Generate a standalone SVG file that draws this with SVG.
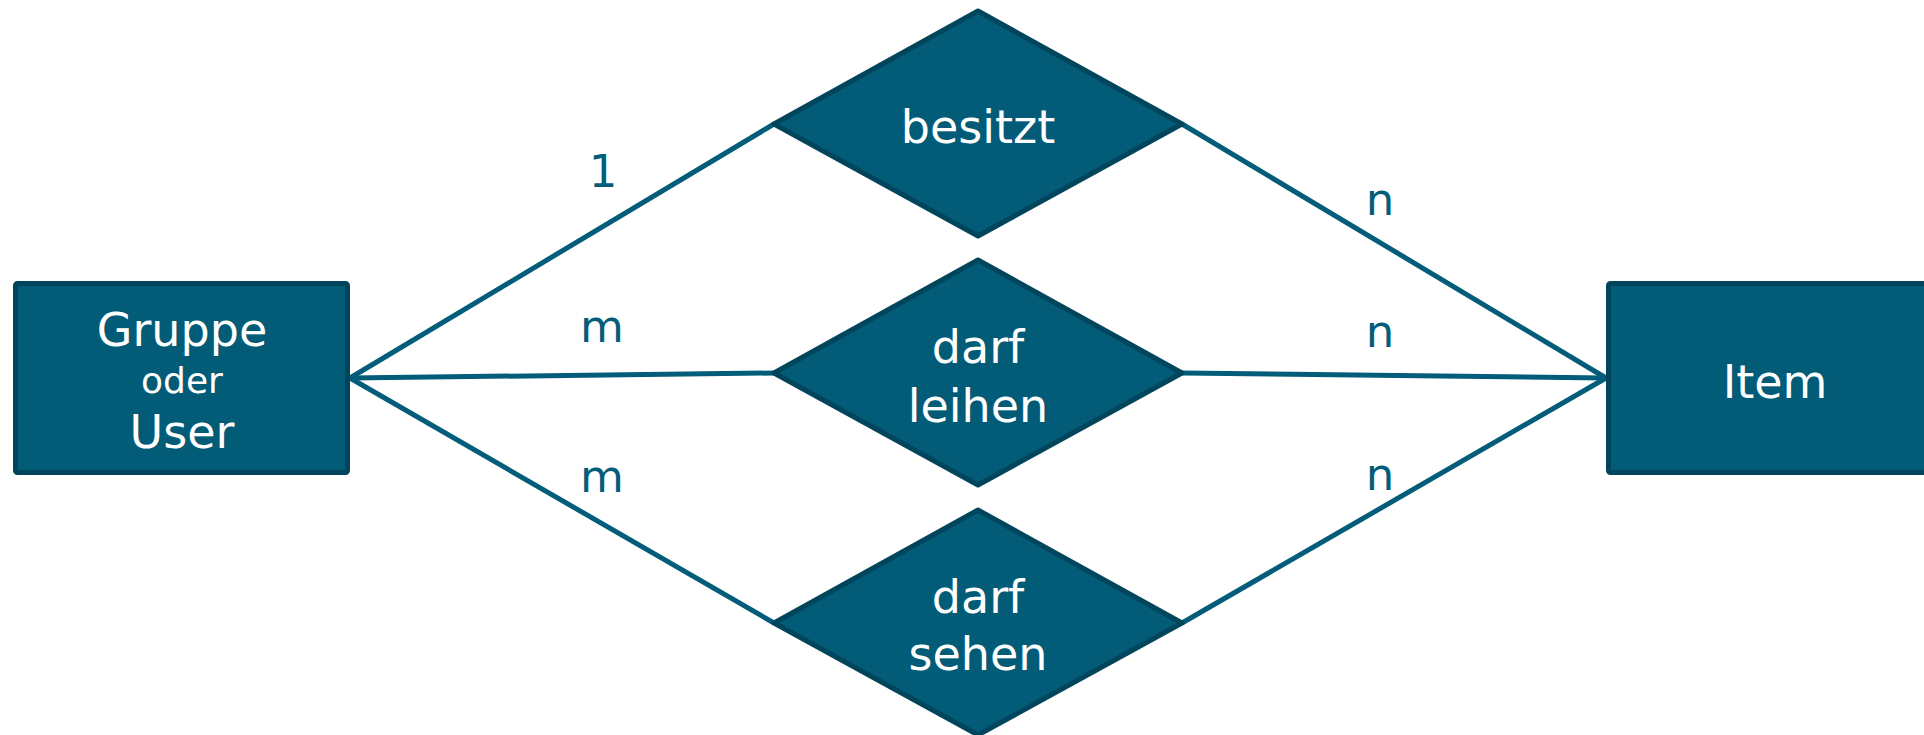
<svg xmlns="http://www.w3.org/2000/svg" width="1924" height="735" viewBox="0 0 1924 735">
<style>
.ent{fill:#025b77;stroke:#01455c;stroke-width:5;}
.rel{fill:#025b77;stroke:#01455c;stroke-width:5;stroke-linejoin:round;}
.con{stroke:#035c7a;stroke-width:5;fill:none;}
.t{font-family:"DejaVu Sans","Verdana",sans-serif;fill:#ffffff;text-anchor:middle;font-size:46px;}
.s{font-size:36px;}
.lbl{font-family:"DejaVu Sans","Verdana",sans-serif;fill:#035c7a;text-anchor:middle;font-size:45px;}
</style>
<rect width="1924" height="735" fill="#ffffff"/>
<g id="connectors">
<line class="con" x1="350" y1="378" x2="774" y2="124"/>
<line class="con" x1="350" y1="378" x2="774" y2="373"/>
<line class="con" x1="350" y1="378" x2="774" y2="623"/>
<line class="con" x1="1182" y1="124" x2="1606" y2="378"/>
<line class="con" x1="1182" y1="373" x2="1606" y2="378"/>
<line class="con" x1="1182" y1="623" x2="1606" y2="378"/>
</g>
<g id="labels">
<text class="lbl" x="603" y="187">1</text>
<text class="lbl" x="602" y="342">m</text>
<text class="lbl" x="602" y="492">m</text>
<text class="lbl" x="1380" y="215">n</text>
<text class="lbl" x="1380" y="347">n</text>
<text class="lbl" x="1380" y="490">n</text>
</g>
<g id="gruppe">
<rect class="ent" x="15.5" y="283.5" width="332" height="189" rx="2"/>
<text class="t" x="182" y="346">Gruppe</text>
<text class="t s" x="182" y="393">oder</text>
<text class="t" x="182" y="448">User</text>
</g>
<g id="item">
<rect class="ent" x="1608.5" y="283.5" width="332" height="189" rx="2"/>
<text class="t" x="1775" y="398">Item</text>
</g>
<g id="besitzt">
<polygon class="rel" points="978,11 1182,124 978,236 774,124"/>
<text class="t" x="978" y="143">besitzt</text>
</g>
<g id="darf-leihen">
<polygon class="rel" points="978,260 1182,373 978,485 774,373"/>
<text class="t" x="978" y="363">darf</text>
<text class="t" x="978" y="422">leihen</text>
</g>
<g id="darf-sehen">
<polygon class="rel" points="978,510 1182,623 978,735 774,623"/>
<text class="t" x="978" y="613">darf</text>
<text class="t" x="978" y="670">sehen</text>
</g>
</svg>
